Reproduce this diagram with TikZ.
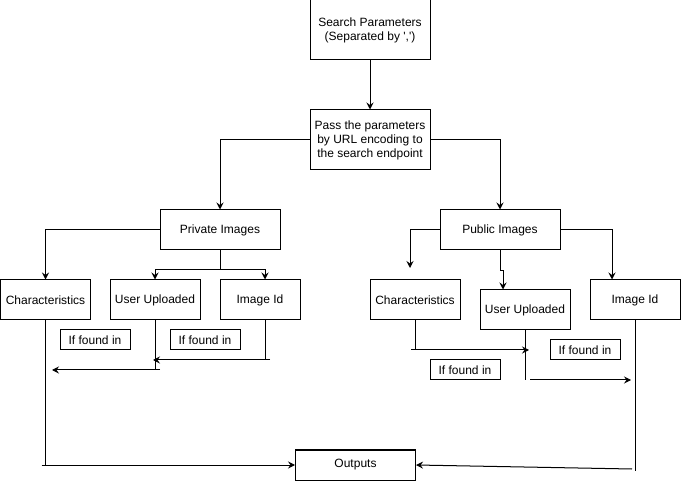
\documentclass[tikz,border=0pt]{standalone}
\usepackage{fontspec}
\setmainfont{Liberation Sans}
\usepackage{tikz}
\usetikzlibrary{shapes.geometric, arrows.meta}
\tikzset{
	box/.style={rectangle, minimum width=90pt, minimum height=40pt, inner sep=0pt, text centered, align=center, draw=black, line width=1pt, font=\fontsize{12}{14}\selectfont},
	foundbox/.style={box, minimum width=70pt, minimum height=20pt},
	wire/.style={line width=1pt},
	arrow/.style={wire,->,>={Stealth[length=7pt,width=7pt,inset=2.5pt]}}
}
\usetikzlibrary{positioning}

\begin{document}
\begin{tikzpicture}[x=1pt,y=-1pt]
		\useasboundingbox (0,0) rectangle (681,481);
		
		% Top of the chart
		\node[box, minimum width=120pt, minimum height=60pt] (search) at (370,30) {Search Parameters\\(Separated by \textquotesingle,\textquotesingle)};
		\node[box, minimum width=120pt, minimum height=60pt] (pass) at (370,140) {Pass the parameters\\by URL encoding to\\the search endpoint};
		
		% Private side
		\node[box, minimum width=120pt] (private) at (220,230) {Private Images};
		\node[box] (privchar) at (45.5,300) {Characteristics};
		\node[box] (privuser) at (155,300) {User Uploaded};
		\node[box, minimum width=80pt] (privid) at (260,300) {Image Id};
		\node[foundbox] (privfoundA) at (95,340) {If found in};
		\node[foundbox] (privfoundB) at (205,340) {If found in};
		
		% Public side
		\node[box, minimum width=120pt] (public) at (500,230) {Public Images};
		\node[box] (pubchar) at (415,300) {Characteristics};
		\node[box] (pubuser) at (525,310) {User Uploaded};
		\node[box] (pubid) at (635,300) {Image Id};
		\node[foundbox] (pubfoundA) at (585,350) {If found in};
		\node[foundbox] (pubfoundB) at (465,370) {If found in};
		
		% Result
		\node[box, minimum width=120pt, minimum height=30pt] (outputs) at (355.5,465) {Outputs};
		
		% Loose ends
		\coordinate (privsplit) at (220,270);
		\coordinate (prividstart) at (270,360);
		\coordinate (prividtip) at (153,360);
		\coordinate (privuserstart) at (160,370);
		\coordinate (privusertip) at (52,370);
		\coordinate (pubchartip) at (410,268);
		\coordinate (pubcharstart) at (411,350);
		\coordinate (pubchartipB) at (529,350);
		\coordinate (pubuserstart) at (530,380);
		\coordinate (pubusertip) at (631,380);
		\coordinate (pubidend) at (632,469);
		
		% Arrows
		\draw[arrow] (search) -- (pass);
		\draw[arrow] (pass.west) -| (private.north);
		\draw[arrow] (pass.east) -| (public.north);
		
		\draw[arrow] (private.west) -| (privchar.north);
		\draw[wire] (private.south) -- (privsplit);
		\draw[arrow] (privsplit) -| (privuser.north);
		\draw[arrow] (privsplit) -| ([xshift=5pt]privid.north);
		\draw[wire] ([xshift=5pt]privid.south) -- ++(0,40);
		\draw[arrow] (prividstart) -- (prividtip);
		\draw[wire] (privuser.south) -- ++(0,50);
		\draw[arrow] (privuserstart) -- (privusertip);
		\draw[wire] (privchar.south) -- (privchar.south |- outputs.west);
		\draw[arrow] ([xshift=-4pt]privchar.south |- outputs.west) -- (outputs.west);
		
		\draw[arrow] (public.west) -| (pubchartip);
		\draw[arrow] (public.south) -- ++(0,20) -| ([xshift=-22pt]pubuser.north);
		\draw[arrow] (public.east) -| ([xshift=-23pt]pubid.north);
		\draw[wire] (pubchar.south) -- ++(0,30);
		\draw[arrow] (pubcharstart) -- (pubchartipB);
		\draw[wire] (pubuser.south) -- ++(0,50);
		\draw[arrow] (pubuserstart) -- (pubusertip);
		\draw[wire] (pubid.south) -- ++(0,150);
		\draw[arrow] (pubidend) -- (outputs.east);
		
	\end{tikzpicture}
\end{document}
